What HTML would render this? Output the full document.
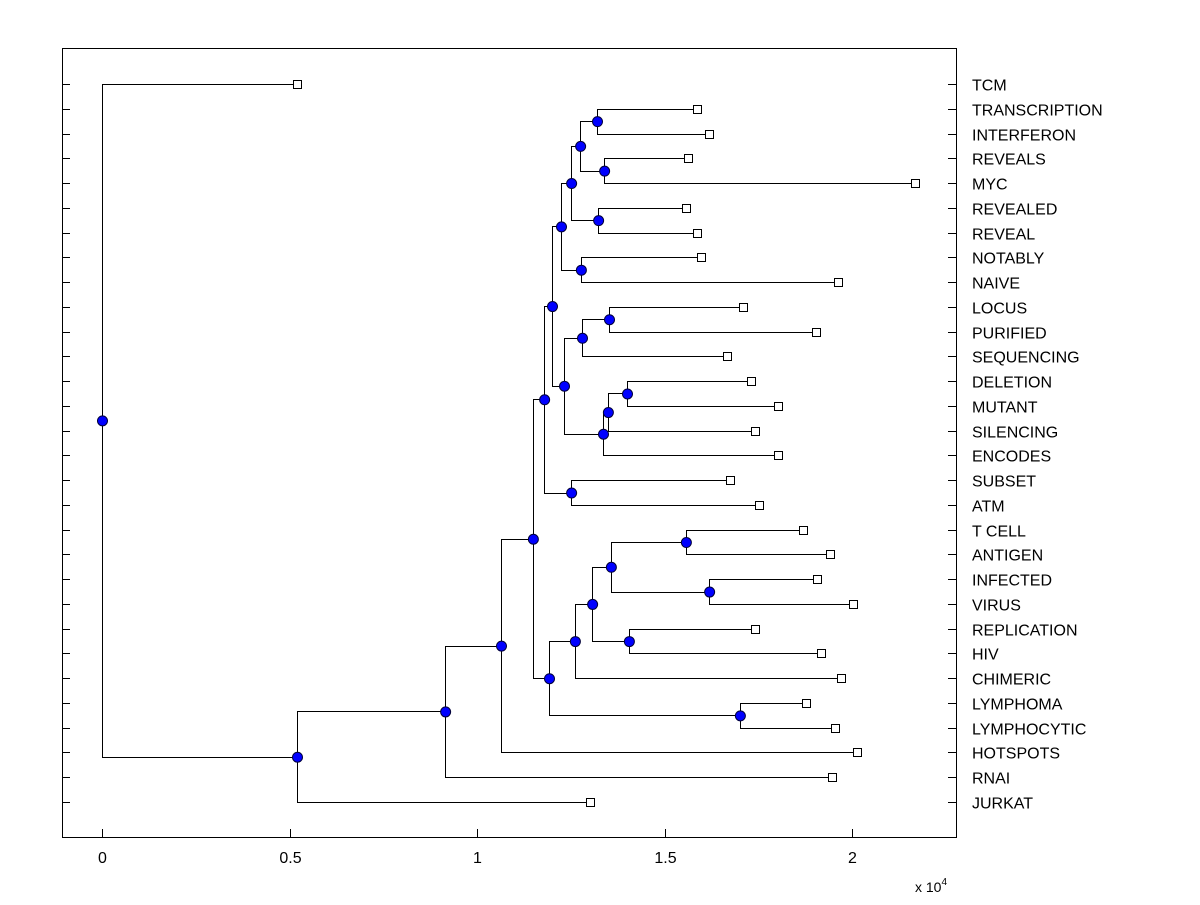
<!DOCTYPE html>
<html><head><meta charset="utf-8"><style>
body{margin:0;background:#fff;}
svg text{font-family:"Liberation Sans",Arial,sans-serif;}
</style></head><body>
<svg id="chart" width="1200" height="900" xmlns="http://www.w3.org/2000/svg">
<rect x="0" y="0" width="1200" height="900" fill="#fff"/>
<rect x="62.5" y="48.5" width="894" height="789" fill="#fff" stroke="#000" stroke-width="1"/>
<g id="ticks"></g><g id="links"></g><g id="marks"></g><g id="labels"></g>
<text x="915" y="892" font-size="14">x 10<tspan dy="-7" font-size="10">4</tspan></text>
</svg>
<script>
const leafNames=["TCM","TRANSCRIPTION","INTERFERON","REVEALS","MYC","REVEALED","REVEAL","NOTABLY","NAIVE","LOCUS","PURIFIED","SEQUENCING","DELETION","MUTANT","SILENCING","ENCODES","SUBSET","ATM","T CELL","ANTIGEN","INFECTED","VIRUS","REPLICATION","HIV","CHIMERIC","LYMPHOMA","LYMPHOCYTIC","HOTSPOTS","RNAI","JURKAT"];
const leafHeights=[0.52,1.587,1.619,1.563,2.168,1.557,1.587,1.597,1.963,1.709,1.904,1.667,1.731,1.803,1.741,1.803,1.675,1.752,1.869,1.941,1.907,2.003,1.741,1.917,1.971,1.877,1.955,2.013,1.947,1.301];
// merges: child indices (0-29 leaves, 30+k = merge k)
const mergeLeft=[1,3,30,5,32,7,34,9,37,12,39,40,38,36,16,43,18,20,46,22,48,50,25,51,45,54,55,56,0];
const mergeRight=[2,4,31,6,33,8,35,10,11,13,14,15,41,42,17,44,19,21,47,23,49,24,26,52,53,27,28,29,57];
const mergeHeights=[1.32,1.339,1.275,1.323,1.251,1.277,1.224,1.352,1.28,1.4,1.349,1.336,1.232,1.2,1.251,1.179,1.557,1.619,1.357,1.405,1.307,1.261,1.701,1.192,1.149,1.064,0.915,0.52,0];
const xTicks=[0,0.5,1,1.5,2];
const xTickLabels=["0","0.5","1","1.5","2"];

const NS="http://www.w3.org/2000/svg";
const xs=v=>102+v*375;
const rowY=i=>84+i*(802-84)/29;
function mk(p,tag,a){const e=document.createElementNS(NS,tag);for(const k in a)e.setAttribute(k,a[k]);document.getElementById(p).appendChild(e);return e;}
xTicks.forEach((t,i)=>{
 const x=Math.round(xs(t))+0.5;
 const l=mk("ticks","line",{x1:x,x2:x,y1:837,y2:829,stroke:"#000"});
 
 
 const tx=mk("ticks","text",{x:x,y:863,"font-size":16,"text-anchor":"middle"});
 tx.textContent=xTickLabels[i];
 
 
});
leafNames.forEach((n,i)=>{
 const y=Math.round(rowY(i))+0.5;
 const a=mk("ticks","line",{x1:62,x2:70,y1:y,y2:y,stroke:"#000"});
 
 
 const b=mk("ticks","line",{x1:948,x2:956,y1:y,y2:y,stroke:"#000"});
 
 
 const t=mk("labels","text",{x:972,y:y+6,"font-size":16});
 t.textContent=n;
 
 
});
const H=[],Y=[];
leafNames.forEach((n,i)=>{H[i]=leafHeights[i];Y[i]=rowY(i);});
mergeLeft.forEach((l,k)=>{const r=mergeRight[k];H[30+k]=mergeHeights[k];Y[30+k]=(Y[l]+Y[r])/2;});
mergeLeft.forEach((l,k)=>{
 const r=mergeRight[k],x=Math.round(xs(mergeHeights[k]))+0.5;
 const y1=Math.round(Y[l])+0.5,y2=Math.round(Y[r])+0.5;
 const p=mk("links","path",{d:`M${Math.round(xs(H[l]))} ${y1}H${x}V${y2}H${Math.round(xs(H[r]))}`,fill:"none",stroke:"#000","stroke-width":1});
 
 
});
leafNames.forEach((n,i)=>{
 const x=Math.round(xs(leafHeights[i])),y=Math.round(Y[i]);
 const s=mk("marks","rect",{x:x-3.5,y:y-3.5,width:8,height:8,fill:"#fff",stroke:"#000"});
 
 
});
mergeLeft.forEach((l,k)=>{
 const c=mk("marks","circle",{cx:xs(mergeHeights[k])+0.5,cy:Y[30+k]+0.5,r:5,fill:"#0000ff",stroke:"#00003a","stroke-width":1});
 
 
});
</script>
</body></html>
